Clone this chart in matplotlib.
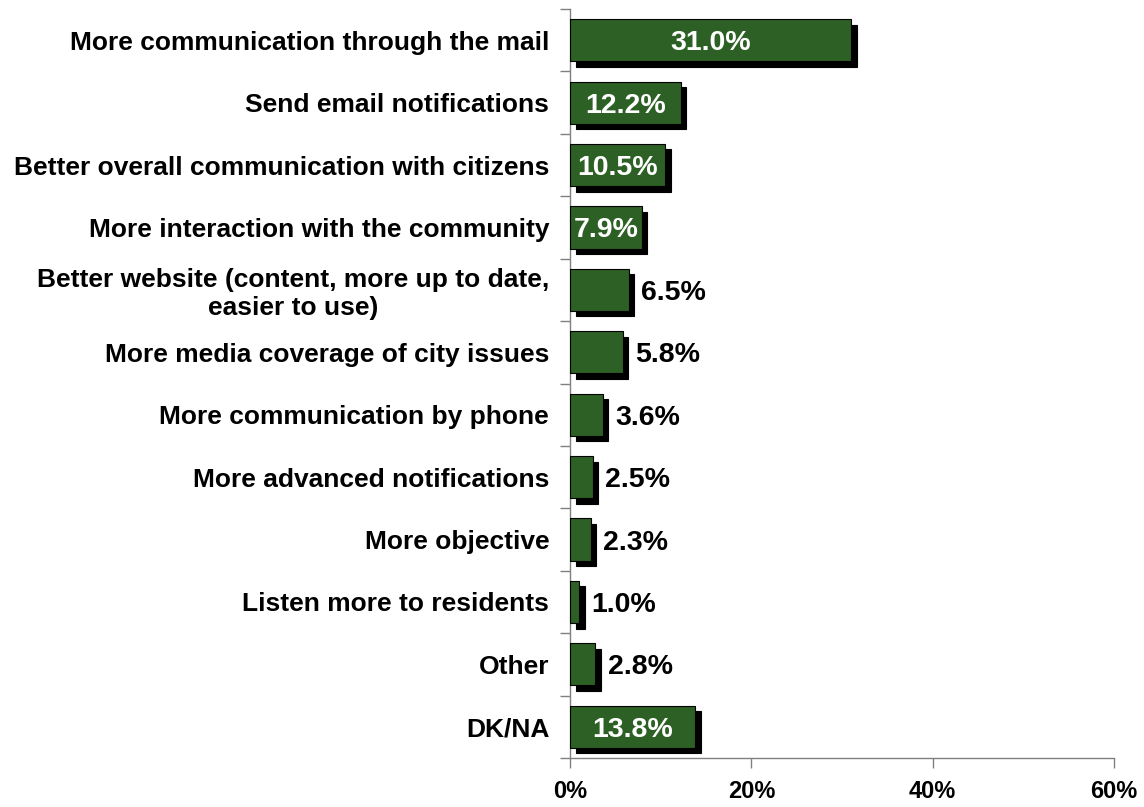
import matplotlib
matplotlib.use("Agg")
import matplotlib.pyplot as plt
import matplotlib.transforms as mtransforms
import numpy as np

categories = [
    "More communication through the mail",
    "Send email notifications",
    "Better overall communication with citizens",
    "More interaction with the community",
    "Better website (content, more up to date,\neasier to use)",
    "More media coverage of city issues",
    "More communication by phone",
    "More advanced notifications",
    "More objective",
    "Listen more to residents",
    "Other",
    "DK/NA",
]
values = [31.0, 12.2, 10.5, 7.9, 6.5, 5.8, 3.6, 2.5, 2.3, 1.0, 2.8, 13.8]
x_ticks = [0, 20, 40, 60]
x_tick_labels = ["0%", "20%", "40%", "60%"]

plt.rcParams["font.family"] = ["Liberation Sans", "DejaVu Sans"]
plt.rcParams["font.weight"] = "bold"

fig = plt.figure(figsize=(11.44, 8.07), dpi=100)
ax = fig.add_axes([570 / 1144, 1 - 758 / 807, 544 / 1144, 749 / 807])

bar_color = "#2d6024"
gray = "#808080"
n = len(categories)
ypos = np.arange(n)
bar_h = 0.675

# drop shadow: the same bars shifted right and down by a few pixels
shadow = ax.transData + mtransforms.ScaledTranslation(5.5 / 100, -5.5 / 100, fig.dpi_scale_trans)
ax.barh(ypos, values, height=bar_h, color="black", edgecolor="black",
        linewidth=0.8, transform=shadow, zorder=2, clip_on=False)
ax.barh(ypos, values, height=bar_h, color=bar_color, edgecolor="black",
        linewidth=0.8, zorder=3)

for y, v in zip(ypos, values):
    label = f"{v:.1f}%"
    if v >= 7:
        ax.text(v / 2, y, label, color="white", fontsize=20.5, fontweight="bold",
                ha="center", va="center_baseline", zorder=4)
    else:
        ax.annotate(label, xy=(v, y), xytext=(9, 0), textcoords="offset points",
                    color="black", fontsize=20.5, fontweight="bold",
                    ha="left", va="center_baseline", zorder=4)

ax.set_xlim(0, 60)
ax.set_ylim(n - 0.5, -0.5)

ax.set_xticks(x_ticks)
ax.set_xticklabels(x_tick_labels, fontsize=17, fontweight="bold")

# category names sit at bar centers; tick marks go on the category boundaries
ax.set_yticks(ypos)
ax.set_yticklabels(categories, fontsize=19, fontweight="bold", multialignment="center")
ax.tick_params(axis="y", which="major", length=0, pad=15)
ax.set_yticks(np.arange(n + 1) - 0.5, minor=True)
ax.tick_params(axis="y", which="minor", length=7, width=1, color=gray, direction="out")
ax.tick_params(axis="x", which="major", length=7, width=1, color=gray, direction="out", pad=9)

for side in ("top", "right"):
    ax.spines[side].set_visible(False)
for side in ("left", "bottom"):
    ax.spines[side].set_color(gray)
    ax.spines[side].set_linewidth(1)

fig.savefig("out.png", dpi=100, facecolor="white")
